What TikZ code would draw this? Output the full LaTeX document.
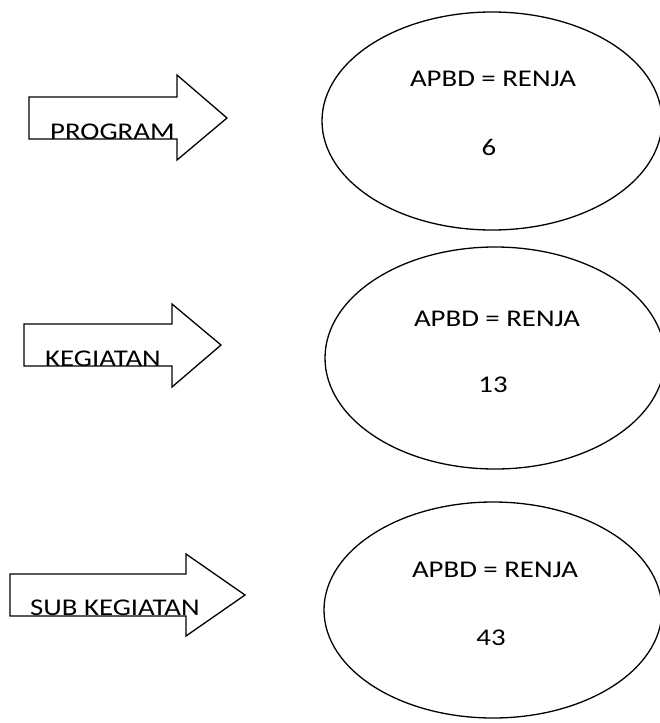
\documentclass[tikz,border=0pt]{standalone}
\usepackage{fontspec}
\setmainfont{Carlito}
\begin{document}
\begin{tikzpicture}[x=1pt,y=-1pt,
  shape line/.style={draw=black,line width=1.3pt,line join=miter},
  lbl/.style={inner sep=0pt,font=\fontsize{24}{28}\selectfont},
]
\useasboundingbox (0,0) rectangle (660,723);
\fill[white] (0,0) rectangle (660,723);
% arrows
\draw[shape line] (29,97) -- (177,97) -- (177,75) -- (227,118) -- (177,160) -- (177,139) -- (29,139) -- cycle;
\draw[shape line] (24,324) -- (172,324) -- (172,304) -- (221,345) -- (172,387) -- (172,366) -- (24,366) -- cycle;
\draw[shape line] (10,574) -- (186,574) -- (186,554) -- (245,595) -- (186,636) -- (186,616) -- (10,616) -- cycle;
\node[lbl,anchor=base west] (t1) at (50,139) {\scalebox{1.2}[1]{PROGRAM}};
\node[lbl,anchor=base west] (t2) at (45,366) {\scalebox{1.2}[1]{KEGIATAN}};
\node[lbl,anchor=base west] (t3) at (30,615) {\scalebox{1.2}[1]{SUB KEGIATAN}};
% ellipses
\draw[shape line] (492,121) ellipse [x radius=170,y radius=109];
\draw[shape line] (495,358) ellipse [x radius=170,y radius=111];
\draw[shape line] (493,610) ellipse [x radius=169,y radius=108];
\node[lbl,anchor=base] (e1a) at (493,86.7) {\scalebox{1.2}[1]{APBD = RENJA}};
\node[lbl,anchor=base] (e1b) at (489,155) {\scalebox{1.2}[1]{6}};
\node[lbl,anchor=base] (e2a) at (497,326) {\scalebox{1.2}[1]{APBD = RENJA}};
\node[lbl,anchor=base] (e2b) at (493,392) {\scalebox{1.2}[1]{13}};
\node[lbl,anchor=base] (e3a) at (495,577) {\scalebox{1.2}[1]{APBD = RENJA}};
\node[lbl,anchor=base] (e3b) at (491,645) {\scalebox{1.2}[1]{43}};
\end{tikzpicture}
\end{document}
